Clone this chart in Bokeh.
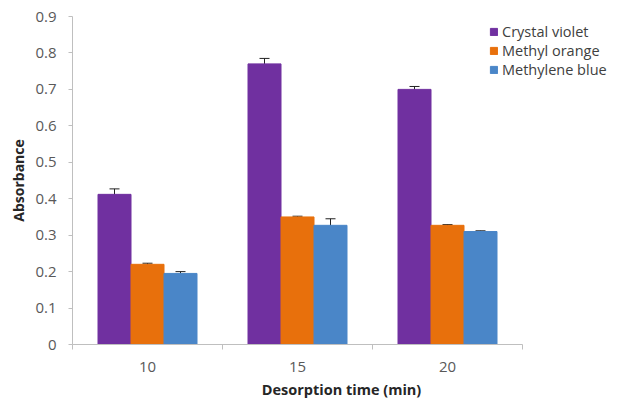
from bokeh.plotting import figure
from bokeh.models import ColumnDataSource, FixedTicker, Range1d, Whisker, Legend, LegendItem
from bokeh.transform import dodge
from bokeh.embed import file_html
from bokeh.resources import INLINE

times = ["10", "15", "20"]
series = ["Crystal violet", "Methyl orange", "Methylene blue"]
crystal_violet = [0.412, 0.770, 0.700]
methyl_orange = [0.220, 0.350, 0.327]
methylene_blue = [0.195, 0.327, 0.310]
cv_err = [0.015, 0.015, 0.008]
mo_err = [0.003, 0.002, 0.002]
mb_err = [0.005, 0.018, 0.002]
colors = ["#7030A0", "#E8700C", "#4A86C8"]

xpos = [i + 0.5 for i in range(len(times))]
vals = [crystal_violet, methyl_orange, methylene_blue]
errs = [cv_err, mo_err, mb_err]

FONT = "Open Sans"
FW = 538
p = figure(frame_width=FW, frame_height=328, output_backend="svg", toolbar_location=None,
           x_range=Range1d(0, FW / 150), y_range=Range1d(0, 0.9),
           min_border_left=72, min_border_right=0, min_border_top=16, min_border_bottom=56)
p.outline_line_color = None
p.xgrid.visible = False
p.ygrid.visible = False

bw = 0.22
offsets = [-bw, 0, bw]
items = []
for name, v, e, c, off in zip(series, vals, errs, colors, offsets):
    src = ColumnDataSource(dict(x=xpos, top=v,
                                lower=[a - b for a, b in zip(v, e)],
                                upper=[a + b for a, b in zip(v, e)]))
    r = p.vbar(x=dodge("x", off), top="top", width=bw, source=src,
               fill_color=c, line_color=c)
    w = Whisker(base=dodge("x", off), lower="lower", upper="upper", source=src,
                line_color="#222222", line_width=1)
    w.upper_head.size = 10
    w.lower_head.size = 10
    w.upper_head.line_color = "#222222"
    w.lower_head.line_color = "#222222"
    p.add_layout(w)
    items.append(LegendItem(label=name, renderers=[r]))

legend = Legend(items=items, location=(417, 265), background_fill_alpha=0,
                border_line_color=None, glyph_width=9, glyph_height=9,
                label_text_font=FONT, label_text_font_size="14.5px",
                label_text_color="#404040", label_height=18, spacing=0,
                padding=2, margin=0, label_standoff=4)
p.add_layout(legend)

# x axis
p.xaxis.bounds = (0, 3)
p.xaxis.ticker = FixedTicker(ticks=xpos, minor_ticks=[0, 1, 2, 3])
p.xaxis.major_label_overrides = {x: t for x, t in zip(xpos, times)}
p.xaxis.major_tick_line_color = None
p.xaxis.major_tick_out = 0
p.xaxis.major_tick_in = 0
p.xaxis.minor_tick_out = 5
p.xaxis.minor_tick_in = 0
p.xaxis.minor_tick_line_color = "#BFBFBF"
p.xaxis.major_label_standoff = 12
p.xaxis.axis_label = "Desorption time (min)"
p.xaxis.axis_label_standoff = 5
p.xaxis.axis_label_text_font_size = "14.5px"

# y axis
p.yaxis.ticker = FixedTicker(ticks=[i / 10 for i in range(10)], minor_ticks=[])
p.yaxis.major_label_overrides = {i / 10: ("0" if i == 0 else f"0.{i}") for i in range(10)}
p.yaxis.major_tick_out = 4
p.yaxis.major_tick_in = 0
p.yaxis.major_tick_line_color = "#BFBFBF"
p.yaxis.major_label_standoff = 12
p.yaxis.axis_label = "Absorbance"
p.yaxis.axis_label_standoff = 4
p.yaxis.axis_label_text_font_size = "14px"

for ax in (p.xaxis, p.yaxis):
    ax.axis_line_color = "#BFBFBF"
    ax.major_label_text_font = FONT
    ax.major_label_text_font_size = "15px"
    ax.major_label_text_color = "#595959"
    ax.axis_label_text_font = FONT
    ax.axis_label_text_font_style = "bold"
    ax.axis_label_text_color = "#262626"

open("out.html", "w").write(file_html(p, INLINE))
